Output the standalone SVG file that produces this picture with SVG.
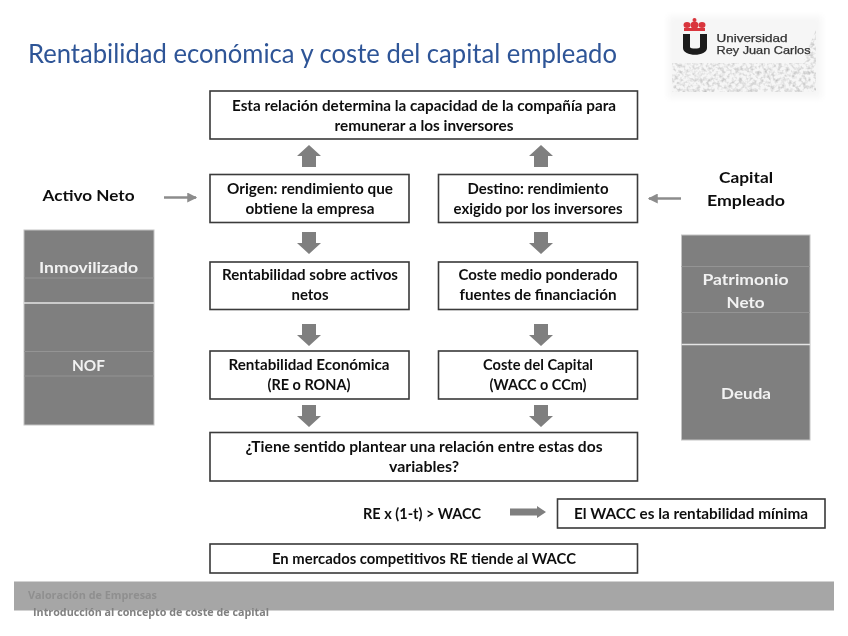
<svg xmlns="http://www.w3.org/2000/svg" width="848" height="636" viewBox="0 0 848 636">
<defs>
<filter id="soft" x="-5%" y="-5%" width="110%" height="110%"><feGaussianBlur stdDeviation="0.35"/></filter>
<filter id="soft2" x="-5%" y="-5%" width="110%" height="110%"><feGaussianBlur stdDeviation="3"/></filter>
<filter id="speck" x="0" y="0" width="100%" height="100%"><feTurbulence type="fractalNoise" baseFrequency="0.28" numOctaves="2" seed="7"/><feColorMatrix values="0 0 0 0 0.45  0 0 0 0 0.45  0 0 0 0 0.45  1.7 0 0 0 -0.7"/><feGaussianBlur stdDeviation="0.6"/><feComposite in2="SourceGraphic" operator="in"/></filter>
<marker id="thin" markerWidth="4" markerHeight="4" refX="3.500" refY="2" orient="auto"><path d="M0 0L4 2L0 4Z" fill="#8c8c8c"/></marker>
<path id="down" d="M-7 -11H7V0H12L0 11L-12 0H-7Z" fill="#7f7f7f"/>
</defs>
<style>
.t{font-family:Lato,"Liberation Sans",sans-serif;font-weight:700;font-size:14.5px;fill:#111;text-anchor:middle}
.box{fill:#fff;stroke:#3a3a3a;stroke-width:1.6}
.pan{fill:#7f7f7f;stroke:#c4c4c4;stroke-width:1}
.w{font-family:Lato,"Liberation Sans",sans-serif;font-weight:700;font-size:15.5px;fill:#f2f2f2;text-anchor:middle}
.l{stroke:#949494;stroke-width:1}
.h{stroke:#e4e4e4;stroke-width:1.4}
.f{font-family:"Open Sans","Liberation Sans",sans-serif;font-weight:700;font-size:10.5px}
.u{font-family:"Liberation Sans",sans-serif;font-size:10.4px;fill:#333;stroke:#333;stroke-width:.25}
</style>
<g filter="url(#soft)">
<text id="title" x="28" y="63" font-family="Lato,'Liberation Sans',sans-serif" font-size="26.500" fill="#2f5597" textLength="589" lengthAdjust="spacingAndGlyphs">Rentabilidad económica y coste del capital empleado</text>
<g id="logo">
<rect x="668" y="16" width="154" height="82" fill="#f6f6f6" filter="url(#soft2)"/>
<path d="M672 92V63H804V58L816 30V92Z" fill="#fff" filter="url(#speck)"/>
<g fill="#d9363e"><circle cx="694.500" cy="20" r="2"/><ellipse cx="687" cy="25" rx="3.500" ry="3"/><ellipse cx="694.500" cy="25" rx="4" ry="3.500"/><ellipse cx="702" cy="25" rx="3.500" ry="3"/><rect x="684" y="28" width="21" height="3"/></g>
<path d="M683 34H690V47C690 49 700 49 700 47V34H707V48C707 57 683 57 683 48Z" fill="#1a1a1a"/>
<text class="u" x="716.500" y="42" textLength="71" lengthAdjust="spacingAndGlyphs">Universidad</text>
<text class="u" x="716.500" y="54" textLength="94" lengthAdjust="spacingAndGlyphs">Rey Juan Carlos</text>
</g>
<g id="connectors">
<use href="#down" transform="translate(309,156) rotate(180)"/>
<use href="#down" transform="translate(541,156) rotate(180)"/>
<use href="#down" x="309" y="243"/><use href="#down" x="541" y="243"/>
<use href="#down" x="309" y="335"/><use href="#down" x="541" y="335"/>
<use href="#down" x="309" y="416"/><use href="#down" x="541" y="416"/>
<path d="M164 197.500H196" stroke="#8c8c8c" stroke-width="2.500" marker-end="url(#thin)"/>
<path d="M681 198.500H649" stroke="#8c8c8c" stroke-width="2.500" marker-end="url(#thin)"/>
<path d="M510 508.500H537V506L546 512L537 518V515.500H510Z" fill="#7f7f7f"/>
</g>
<g id="n-top"><rect class="box" x="210" y="91" width="427.500" height="48"/><text class="t" x="424" y="110.500" textLength="384" lengthAdjust="spacingAndGlyphs">Esta relación determina la capacidad de la compañía para</text><text class="t" x="424" y="130.500" textLength="179" lengthAdjust="spacingAndGlyphs">remunerar a los inversores</text></g>
<g id="n-origen"><rect class="box" x="210" y="174.500" width="199" height="48"/><text class="t" x="310" y="194" textLength="166" lengthAdjust="spacingAndGlyphs">Origen: rendimiento que</text><text class="t" x="310" y="214" textLength="129" lengthAdjust="spacingAndGlyphs">obtiene la empresa</text></g>
<g id="n-destino"><rect class="box" x="438.500" y="174.500" width="199" height="48"/><text class="t" x="538" y="194" textLength="141" lengthAdjust="spacingAndGlyphs">Destino: rendimiento</text><text class="t" x="538" y="214" textLength="169" lengthAdjust="spacingAndGlyphs">exigido por los inversores</text></g>
<g id="n-rsan"><rect class="box" x="210" y="262" width="199" height="47.500"/><text class="t" x="310" y="280" textLength="176" lengthAdjust="spacingAndGlyphs">Rentabilidad sobre activos</text><text class="t" x="310" y="300" textLength="37" lengthAdjust="spacingAndGlyphs">netos</text></g>
<g id="n-cmp"><rect class="box" x="438.500" y="262" width="199" height="47.500"/><text class="t" x="538" y="280" textLength="159" lengthAdjust="spacingAndGlyphs">Coste medio ponderado</text><text class="t" x="538" y="300" textLength="157" lengthAdjust="spacingAndGlyphs">fuentes de financiación</text></g>
<g id="n-re"><rect class="box" x="210" y="351" width="199" height="48"/><text class="t" x="309" y="370" textLength="161" lengthAdjust="spacingAndGlyphs">Rentabilidad Económica</text><text class="t" x="309" y="390" textLength="83" lengthAdjust="spacingAndGlyphs">(RE o RONA)</text></g>
<g id="n-wacc"><rect class="box" x="438.500" y="351" width="199" height="48"/><text class="t" x="538" y="370" textLength="110" lengthAdjust="spacingAndGlyphs">Coste del Capital</text><text class="t" x="538" y="390" textLength="97" lengthAdjust="spacingAndGlyphs">(WACC o CCm)</text></g>
<g id="n-q"><rect class="box" x="210" y="432.500" width="427.500" height="48.500"/><text class="t" x="424" y="452" textLength="357" lengthAdjust="spacingAndGlyphs">¿Tiene sentido plantear una relación entre estas dos</text><text class="t" x="424" y="472" textLength="70" lengthAdjust="spacingAndGlyphs">variables?</text></g>
<g id="n-formula"><text class="t" x="422" y="519" textLength="118" lengthAdjust="spacingAndGlyphs">RE x (1-t) &gt; WACC</text></g>
<g id="n-min"><rect class="box" x="557.500" y="499" width="267.500" height="29"/><text class="t" x="691" y="519" textLength="234" lengthAdjust="spacingAndGlyphs">El WACC es la rentabilidad mínima</text></g>
<g id="n-comp"><rect class="box" x="210" y="544" width="427.500" height="29"/><text class="t" x="424" y="564" textLength="304" lengthAdjust="spacingAndGlyphs">En mercados competitivos RE tiende al WACC</text></g>
<g id="n-activo"><text class="t" x="88.500" y="201" style="font-size:15.500px" textLength="92" lengthAdjust="spacingAndGlyphs">Activo Neto</text></g>
<g id="n-capital"><text class="t" x="746" y="183" style="font-size:15.500px" textLength="54" lengthAdjust="spacingAndGlyphs">Capital</text><text class="t" x="746" y="206" style="font-size:15.500px" textLength="78" lengthAdjust="spacingAndGlyphs">Empleado</text></g>
<g id="p-activo"><rect class="pan" x="24" y="230" width="130" height="195"/><path class="l" d="M24 278H154M24 351.500H154M24 376H154"/><path class="h" d="M24 303H154"/><text class="w" x="88.500" y="273" textLength="99" lengthAdjust="spacingAndGlyphs">Inmovilizado</text><text class="w" x="88.500" y="371" textLength="33" lengthAdjust="spacingAndGlyphs">NOF</text></g>
<g id="p-capital"><rect class="pan" x="681.500" y="235" width="128.500" height="205"/><path class="l" d="M681.500 266.500H810M681.500 312.500H810"/><path class="h" d="M681.500 344.500H810"/><text class="w" x="745.500" y="285" textLength="86" lengthAdjust="spacingAndGlyphs">Patrimonio</text><text class="w" x="745.500" y="308" textLength="38" lengthAdjust="spacingAndGlyphs">Neto</text><text class="w" x="746" y="399" textLength="50" lengthAdjust="spacingAndGlyphs">Deuda</text></g>
<g id="footer"><rect x="14" y="581.500" width="820" height="29" fill="#a6a6a6"/><text class="f" x="28" y="599" fill="#8f8f8f" textLength="129" lengthAdjust="spacingAndGlyphs">Valoración de Empresas</text><text class="f" x="33" y="616" fill="#808080" textLength="236" lengthAdjust="spacingAndGlyphs">Introducción al concepto de coste de capital</text></g>
</g>
</svg>
